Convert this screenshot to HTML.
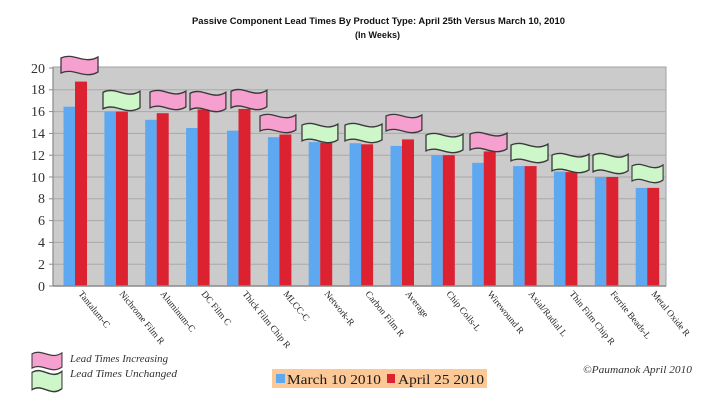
<!DOCTYPE html>
<html><head><meta charset="utf-8"><style>
html,body{margin:0;padding:0;background:#fff;}
svg{display:block;}
</style></head><body>
<svg width="720" height="405" viewBox="0 0 720 405" xmlns="http://www.w3.org/2000/svg">
<defs>
<path id="fl" d="M0,3 C13,-3 23,10 37,2 L37,17 C23,25 13,12 0,18 Z"/>
</defs>
<rect width="720" height="405" fill="#fff"/>
<!-- title -->
<text x="192" y="24" font-family="Liberation Sans, sans-serif" font-weight="bold" font-size="9.5" fill="#111" textLength="373" lengthAdjust="spacingAndGlyphs">Passive Component Lead Times By Product Type: April 25th Versus March 10, 2010</text>
<text x="355" y="38" font-family="Liberation Sans, sans-serif" font-weight="bold" font-size="9.5" fill="#111" textLength="45" lengthAdjust="spacingAndGlyphs">(In Weeks)</text>
<!-- plot area -->
<rect x="53" y="67" width="613" height="219" fill="#cbcbcb" stroke="#a0a0a0" stroke-width="1"/>
<g stroke="#a9a9a9" stroke-width="1">
<line x1="53" x2="666" y1="264.2" y2="264.2"/>
<line x1="53" x2="666" y1="242.4" y2="242.4"/>
<line x1="53" x2="666" y1="220.6" y2="220.6"/>
<line x1="53" x2="666" y1="198.8" y2="198.8"/>
<line x1="53" x2="666" y1="177" y2="177"/>
<line x1="53" x2="666" y1="155.2" y2="155.2"/>
<line x1="53" x2="666" y1="133.4" y2="133.4"/>
<line x1="53" x2="666" y1="111.6" y2="111.6"/>
<line x1="53" x2="666" y1="89.8" y2="89.8"/>
</g>
<!-- bars -->
<g fill="#5ea8f2">
<rect x="63.5" y="106.7" width="11.5" height="179.3"/>
<rect x="104.4" y="111.6" width="11.5" height="174.4"/>
<rect x="145.2" y="119.8" width="11.5" height="166.2"/>
<rect x="186.1" y="128" width="11.5" height="158"/>
<rect x="227" y="130.7" width="11.5" height="155.3"/>
<rect x="267.9" y="137.2" width="11.5" height="148.8"/>
<rect x="308.7" y="142.1" width="11.5" height="143.9"/>
<rect x="349.6" y="143.2" width="11.5" height="142.8"/>
<rect x="390.5" y="145.9" width="11.5" height="140.1"/>
<rect x="431.3" y="155.2" width="11.5" height="130.8"/>
<rect x="472.2" y="162.8" width="11.5" height="123.2"/>
<rect x="513.1" y="166.1" width="11.5" height="119.9"/>
<rect x="553.9" y="171.6" width="11.5" height="114.4"/>
<rect x="594.8" y="177" width="11.5" height="109"/>
<rect x="635.7" y="187.9" width="11.5" height="98.1"/>
</g>
<g fill="#dc2231">
<rect x="75" y="81.6" width="12" height="204.4"/>
<rect x="115.9" y="111.6" width="12" height="174.4"/>
<rect x="156.7" y="113.2" width="12" height="172.8"/>
<rect x="197.6" y="109.4" width="12" height="176.6"/>
<rect x="238.5" y="108.9" width="12" height="177.1"/>
<rect x="279.4" y="134.5" width="12" height="151.5"/>
<rect x="320.2" y="142.7" width="12" height="143.3"/>
<rect x="361.1" y="144.3" width="12" height="141.7"/>
<rect x="402" y="139.4" width="12" height="146.6"/>
<rect x="442.8" y="155.2" width="12" height="130.8"/>
<rect x="483.7" y="151.4" width="12" height="134.6"/>
<rect x="524.6" y="166.1" width="12" height="119.9"/>
<rect x="565.4" y="172.1" width="12" height="113.9"/>
<rect x="606.3" y="177" width="12" height="109"/>
<rect x="647.2" y="187.9" width="12" height="98.1"/>
</g>
<!-- axes -->
<line x1="53" y1="67" x2="53" y2="286" stroke="#8a8a8a" stroke-width="1.2"/>
<line x1="53" y1="286" x2="666" y2="286" stroke="#8a8a8a" stroke-width="1.5"/>
<g stroke="#8a8a8a" stroke-width="1">
<line x1="49" x2="53" y1="286" y2="286"/><line x1="49" x2="53" y1="264.2" y2="264.2"/><line x1="49" x2="53" y1="242.4" y2="242.4"/><line x1="49" x2="53" y1="220.6" y2="220.6"/><line x1="49" x2="53" y1="198.8" y2="198.8"/><line x1="49" x2="53" y1="177" y2="177"/><line x1="49" x2="53" y1="155.2" y2="155.2"/><line x1="49" x2="53" y1="133.4" y2="133.4"/><line x1="49" x2="53" y1="111.6" y2="111.6"/><line x1="49" x2="53" y1="89.8" y2="89.8"/><line x1="49" x2="53" y1="68" y2="68"/>
</g>
<!-- y labels -->
<g font-family="Liberation Serif, serif" font-size="14" fill="#333" text-anchor="end">
<text x="45" y="291">0</text>
<text x="45" y="269">2</text>
<text x="45" y="247">4</text>
<text x="45" y="225">6</text>
<text x="45" y="203">8</text>
<text x="45" y="182">10</text>
<text x="45" y="160">12</text>
<text x="45" y="138">14</text>
<text x="45" y="116">16</text>
<text x="45" y="94">18</text>
<text x="45" y="73">20</text>
</g>
<!-- x labels -->
<g font-family="Liberation Serif, serif" font-size="9.3" fill="#222">
<text transform="translate(78,294) rotate(51)">Tantalum-C</text>
<text transform="translate(119,294) rotate(51)">Nichrome Film R</text>
<text transform="translate(160,294) rotate(51)">Aluminum-C</text>
<text transform="translate(201,294) rotate(51)">DC Film C</text>
<text transform="translate(242,294) rotate(51)">Thick Film Chip R</text>
<text transform="translate(283,294) rotate(51)">MLCC-C</text>
<text transform="translate(324,294) rotate(51)">Network-R</text>
<text transform="translate(365,294) rotate(51)">Carbon Film R</text>
<text transform="translate(405,294) rotate(51)">Average</text>
<text transform="translate(446,294) rotate(51)">Chip Coils-L</text>
<text transform="translate(487,294) rotate(51)">Wirewound R</text>
<text transform="translate(528,294) rotate(51)">Axial/Radial L</text>
<text transform="translate(569,294) rotate(51)">Thin Film Chip R</text>
<text transform="translate(610,294) rotate(51)">Ferrite Beads-L</text>
<text transform="translate(651,294) rotate(51)">Metal Oxide R</text>
</g>
<!-- flags -->
<g stroke="#3a3a3a" stroke-width="1.3">
<use href="#fl" transform="translate(61,55) scale(1,1)" fill="#f6a0cf"/>
<use href="#fl" transform="translate(103,89) scale(1,1.1)" fill="#cdf6c9"/>
<use href="#fl" transform="translate(150,89) scale(0.97,1.05)" fill="#f6a0cf"/>
<use href="#fl" transform="translate(190,90) scale(0.97,1.1)" fill="#f6a0cf"/>
<use href="#fl" transform="translate(231,88) scale(0.97,1.1)" fill="#f6a0cf"/>
<use href="#fl" transform="translate(260,113) scale(0.97,1)" fill="#f6a0cf"/>
<use href="#fl" transform="translate(302,122) scale(0.97,1.05)" fill="#cdf6c9"/>
<use href="#fl" transform="translate(345,122) scale(1,1.05)" fill="#cdf6c9"/>
<use href="#fl" transform="translate(386,113) scale(0.97,1)" fill="#f6a0cf"/>
<use href="#fl" transform="translate(426,132) scale(1,1.05)" fill="#cdf6c9"/>
<use href="#fl" transform="translate(470,131) scale(1,1.05)" fill="#f6a0cf"/>
<use href="#fl" transform="translate(511,142) scale(1,1.05)" fill="#cdf6c9"/>
<use href="#fl" transform="translate(552,152) scale(1,1.05)" fill="#cdf6c9"/>
<use href="#fl" transform="translate(593,152) scale(0.95,1.1)" fill="#cdf6c9"/>
<use href="#fl" transform="translate(632,163) scale(0.84,1)" fill="#cdf6c9"/>
<!-- legend flags -->
<use href="#fl" transform="translate(32,351) scale(0.81,0.95)" fill="#f6a0cf"/>
<use href="#fl" transform="translate(32,369) scale(0.81,1.15)" fill="#cdf6c9"/>
</g>
<g font-family="Liberation Serif, serif" font-style="italic" font-size="10" fill="#333">
<text x="70" y="362" textLength="98" lengthAdjust="spacingAndGlyphs">Lead Times Increasing</text>
<text x="70" y="377" textLength="107" lengthAdjust="spacingAndGlyphs">Lead Times Unchanged</text>
<text x="583" y="373" textLength="109" lengthAdjust="spacingAndGlyphs">©Paumanok  April  2010</text>
</g>
<!-- series legend -->
<rect x="272" y="369" width="215" height="19" fill="#fcc896"/>
<rect x="276" y="374" width="9" height="9" fill="#5ea8f2"/>
<rect x="387" y="374" width="8" height="9" fill="#dc2231"/>
<g font-family="Liberation Serif, serif" font-size="14" fill="#1a1a1a">
<text x="287" y="384" textLength="94" lengthAdjust="spacingAndGlyphs">March 10 2010</text>
<text x="398" y="384" textLength="86" lengthAdjust="spacingAndGlyphs">April 25 2010</text>
</g>
</svg>
</body></html>
